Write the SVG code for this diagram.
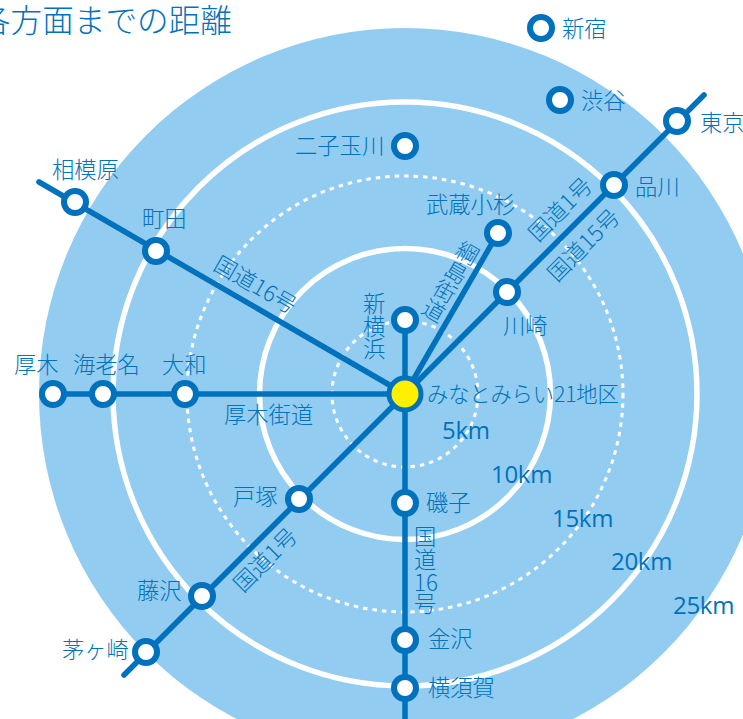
<svg xmlns="http://www.w3.org/2000/svg" width="743" height="719" viewBox="0 0 743 719">
<style>
text{font-family:"Noto Sans CJK JP","Noto Sans",sans-serif;font-size:22.3px;font-weight:300;fill:#0071bc}
.km{font-family:"Open Sans","Noto Sans",sans-serif;font-size:24px;font-weight:400;letter-spacing:-.3px}
.v{writing-mode:vertical-rl}
.line{fill:none;stroke:#0071bc;stroke-width:5.5;stroke-linecap:round}
.st{fill:#fff;stroke:#0071bc;stroke-width:6}
.ring{fill:none;stroke:#fff;stroke-width:5.5}
.dot{fill:none;stroke:#fff;stroke-width:3;stroke-dasharray:4.5 5}
</style>
<rect width="743" height="719" fill="#fff"/>
<g id="rings">
<circle cx="405" cy="394" r="366" fill="#92cdf1"/>
<circle class="ring" cx="405" cy="394" r="292"/>
<circle class="dot" cx="405" cy="394" r="218"/>
<circle class="ring" cx="405" cy="394" r="145.5"/>
<circle class="dot" cx="405" cy="394" r="73"/>
</g>
<text x="-21" y="32" style="font-size:31.6px">各方面までの距離</text>
<g id="connectors">
<path class="line" d="M39 182L405 394"/>
<path class="line" d="M53 394H405"/>
<path class="line" d="M124 675L405 394"/>
<path class="line" d="M405 320V719"/>
<path class="line" d="M405 394L498 233"/>
<path class="line" d="M405 394L704 95"/>
</g>
<g id="road-labels">
<text x="0" y="0" transform="translate(212 269) rotate(30)">国道16号</text>
<text x="0" y="0" transform="translate(538 243) rotate(-45)">国道1号</text>
<text x="0" y="0" transform="translate(557 283) rotate(-45)">国道15号</text>
<text x="0" y="0" transform="translate(243 593.5) rotate(-45)">国道1号</text>
<text class="v" x="0" y="0" transform="translate(473 243) rotate(30)">綱島街道</text>
<text x="224" y="423">厚木街道</text>
<text><tspan x="414" y="545">国</tspan><tspan x="414" y="568">道</tspan><tspan x="414" y="591">16</tspan><tspan x="414" y="612">号</tspan></text>
</g>
<g id="km-labels">
<text class="km" x="442" y="439">5km</text>
<text class="km" x="491" y="483">10km</text>
<text class="km" x="552" y="527">15km</text>
<text class="km" x="611" y="570">20km</text>
<text class="km" x="673" y="614">25km</text>
</g>
<g id="n-sagamihara"><circle class="st" cx="75" cy="202" r="11"/><text x="52" y="178">相模原</text></g>
<g id="n-machida"><circle class="st" cx="156" cy="251" r="11"/><text x="142" y="227">町田</text></g>
<g id="n-futako"><circle class="st" cx="405" cy="146" r="11"/><text x="295" y="154">二子玉川</text></g>
<g id="n-shinjuku"><circle class="st" cx="541" cy="28" r="11"/><text x="562" y="37">新宿</text></g>
<g id="n-shibuya"><circle class="st" cx="560" cy="100" r="11"/><text x="581" y="109">渋谷</text></g>
<g id="n-tokyo"><circle class="st" cx="677" cy="121" r="11"/><text x="700" y="131">東京</text></g>
<g id="n-shinagawa"><circle class="st" cx="614" cy="185" r="11"/><text x="635" y="195">品川</text></g>
<g id="n-musashikosugi"><circle class="st" cx="498" cy="233" r="11"/><text x="426" y="213">武蔵小杉</text></g>
<g id="n-kawasaki"><circle class="st" cx="507" cy="292" r="11"/><text x="503" y="334">川崎</text></g>
<g id="n-shinyokohama"><circle class="st" cx="405" cy="320" r="11"/><text><tspan x="363" y="312">新</tspan><tspan x="363" y="335">横</tspan><tspan x="363" y="357">浜</tspan></text></g>
<g id="n-atsugi"><circle class="st" cx="53" cy="394" r="11"/><text x="14" y="373">厚木</text></g>
<g id="n-ebina"><circle class="st" cx="103" cy="394" r="11"/><text x="73" y="373">海老名</text></g>
<g id="n-yamato"><circle class="st" cx="185" cy="394" r="11"/><text x="162" y="373">大和</text></g>
<g id="n-totsuka"><circle class="st" cx="299" cy="499" r="11"/><text x="233" y="505">戸塚</text></g>
<g id="n-fujisawa"><circle class="st" cx="202" cy="596" r="11"/><text x="137" y="599">藤沢</text></g>
<g id="n-chigasaki"><circle class="st" cx="146" cy="652" r="11"/><text x="62" y="658">茅ヶ崎</text></g>
<g id="n-isogo"><circle class="st" cx="405" cy="503" r="11"/><text x="426" y="511">磯子</text></g>
<g id="n-kanazawa"><circle class="st" cx="405" cy="640" r="11"/><text x="428" y="647">金沢</text></g>
<g id="n-yokosuka"><circle class="st" cx="405" cy="688" r="11"/><text x="428" y="696">横須賀</text></g>
<g id="n-minatomirai"><circle cx="405" cy="394" r="16" fill="#fff000" stroke="#0071bc" stroke-width="5"/><text x="427" y="402" style="font-size:21.3px;letter-spacing:-.15px">みなとみらい21地区</text></g>
</svg>
